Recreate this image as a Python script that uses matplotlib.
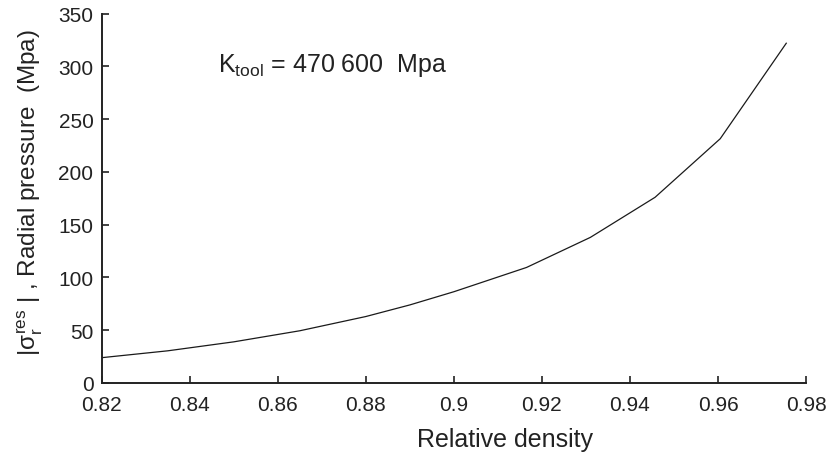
import matplotlib
matplotlib.use("Agg")
import matplotlib.pyplot as plt

plt.rcParams['font.family'] = ['Liberation Sans', 'DejaVu Sans']
plt.rcParams['mathtext.fontset'] = 'custom'
plt.rcParams['mathtext.rm'] = 'Liberation Sans'
plt.rcParams['mathtext.it'] = 'Liberation Sans'
plt.rcParams['mathtext.bf'] = 'Liberation Sans:bold'

# Relative density vs residual radial pressure
density = [0.82, 0.835, 0.85, 0.865, 0.88, 0.89, 0.90, 0.9165, 0.931, 0.9457, 0.9605, 0.9755]
pressure = [24.0, 30.5, 39.0, 49.5, 63.0, 74.0, 86.5, 109.5, 138.0, 176.0, 231.5, 322.0]

x_ticks = [0.82, 0.84, 0.86, 0.88, 0.90, 0.92, 0.94, 0.96, 0.98]
x_tick_labels = ['0.82', '0.84', '0.86', '0.88', '0.9', '0.92', '0.94', '0.96', '0.98']
y_ticks = [0, 50, 100, 150, 200, 250, 300, 350]

W, H = 831, 456
fig = plt.figure(figsize=(W / 100, H / 100), dpi=100)
ax = fig.add_axes([0.1224, 0.1579, 0.970 - 0.1224, 0.9678 - 0.1579])

ax.plot(density, pressure, color='#1a1a1a', linewidth=0.9)

ax.set_xlim(0.82, 0.98)
ax.set_ylim(0, 350)
ax.set_xticks(x_ticks)
ax.set_xticklabels(x_tick_labels)
ax.set_yticks(y_ticks)

for side in ('top', 'right'):
    ax.spines[side].set_visible(False)
for side in ('left', 'bottom'):
    ax.spines[side].set_linewidth(1.4)
    ax.spines[side].set_color('#222222')

ax.tick_params(direction='in', length=5, width=1.2, colors='#222222',
               labelsize=15, labelcolor='#222222')
ax.tick_params(axis='x', pad=9)
ax.tick_params(axis='y', pad=6)

# axis titles
fig.text(505 / W, 1 - 446.7 / H, 'Relative density',
         ha='center', va='baseline', fontsize=18, color='#222222')

fig.text(30 / W, 1 - 193 / H,
         r'$|\sigma_{r}^{res}\ |$ , Radial pressure  (Mpa)',
         rotation=90, ha='center', va='center', fontsize=17.5, color='#222222')

ax.text(0.8464, 296, r'K$_{\mathregular{tool}}$ = 470 600  Mpa',
        ha='left', va='baseline', fontsize=18, color='#222222')

fig.savefig('out.png', dpi=100)
